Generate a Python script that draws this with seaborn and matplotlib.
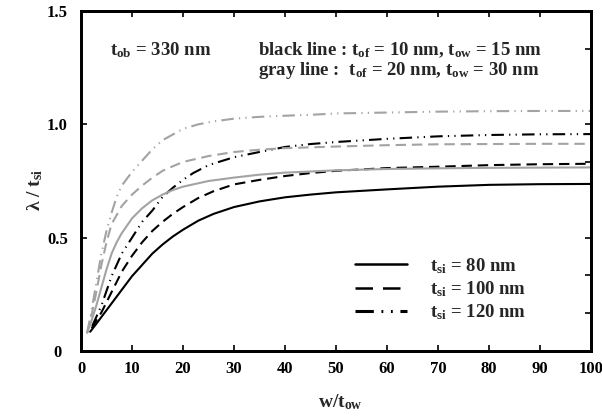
import numpy as np
import pandas as pd
import matplotlib
matplotlib.use("Agg")
import matplotlib.pyplot as plt
from matplotlib.lines import Line2D
import seaborn as sns

# ---- data ----
x_k80 = [1.8, 3, 4, 6, 8, 10, 12, 14, 16, 18, 20, 23, 26, 30, 35, 40, 45, 50, 60, 70, 80, 90, 100]
y_k80 = [0.085, 0.12, 0.15, 0.21, 0.27, 0.33, 0.38, 0.43, 0.47, 0.505, 0.535, 0.575, 0.605, 0.635,
         0.66, 0.678, 0.69, 0.70, 0.713, 0.725, 0.733, 0.736, 0.737]

x_k100 = [2.1, 3, 4, 6, 8, 10, 12, 14, 16, 18, 20, 23, 26, 30, 35, 40, 45, 50, 60, 70, 80, 90, 100]
y_k100 = [0.10, 0.135, 0.17, 0.26, 0.35, 0.42, 0.48, 0.53, 0.57, 0.605, 0.635, 0.675, 0.705, 0.735,
          0.755, 0.772, 0.785, 0.795, 0.807, 0.813, 0.82, 0.824, 0.826]

x_k120 = [2.2, 3, 4, 6, 8, 10, 12, 14, 16, 18, 20, 22, 25, 30, 35, 40, 45, 50, 60, 70, 80, 90, 100]
y_k120 = [0.11, 0.15, 0.20, 0.33, 0.43, 0.50, 0.57, 0.62, 0.68, 0.72, 0.755, 0.785, 0.82, 0.855,
          0.878, 0.90, 0.913, 0.922, 0.936, 0.947, 0.953, 0.956, 0.957]

x_g80 = [1.2, 2, 3, 4, 5, 6, 7, 8, 10, 12, 14, 16, 18, 20, 25, 30, 35, 40, 50, 60, 70, 80, 90, 100]
y_g80 = [0.08, 0.13, 0.20, 0.28, 0.36, 0.43, 0.48, 0.52, 0.585, 0.63, 0.665, 0.69, 0.71, 0.725,
         0.75, 0.765, 0.778, 0.787, 0.797, 0.803, 0.806, 0.808, 0.809, 0.81]

x_g100 = [1.2, 2, 3, 4, 5, 6, 8, 10, 12, 14, 16, 18, 20, 25, 30, 35, 40, 50, 60, 70, 80, 90, 100]
y_g100 = [0.08, 0.15, 0.26, 0.38, 0.48, 0.56, 0.64, 0.69, 0.73, 0.765, 0.795, 0.815, 0.834, 0.86,
          0.878, 0.888, 0.895, 0.902, 0.908, 0.912, 0.913, 0.914, 0.914]

x_g120 = [1.2, 2, 3, 4, 5, 6, 7, 8, 10, 12, 14, 16, 18, 20, 23, 26, 30, 35, 40, 45, 50, 60, 70, 80, 90, 100]
y_g120 = [0.08, 0.17, 0.30, 0.43, 0.53, 0.61, 0.68, 0.73, 0.79, 0.84, 0.89, 0.93, 0.955, 0.98, 1.0,
          1.013, 1.025, 1.033, 1.038, 1.042, 1.048, 1.052, 1.056, 1.058, 1.059, 1.059]

tsi_labels = ["80", "100", "120"]
x_ticks = [0, 10, 20, 30, 40, 50, 60, 70, 80, 90, 100]
y_ticks = [0, 0.5, 1.0, 1.5]
y_tick_labels = ["0", "0.5", "1.0", "1.5"]
right_ticks = [1/6, 2/6, 0.5, 5/6, 1.0, 8/6]

series = [
    ("black", "80", x_k80, y_k80),
    ("black", "100", x_k100, y_k100),
    ("black", "120", x_k120, y_k120),
    ("gray", "80", x_g80, y_g80),
    ("gray", "100", x_g100, y_g100),
    ("gray", "120", x_g120, y_g120),
]

# ---- style ----
sns.set_theme(style="white")
plt.rcParams["font.family"] = ["Liberation Serif", "DejaVu Serif"]
plt.rcParams["font.weight"] = "bold"
plt.rcParams["mathtext.fontset"] = "custom"
plt.rcParams["mathtext.rm"] = "Liberation Serif:bold"
plt.rcParams["mathtext.bf"] = "Liberation Serif:bold"
plt.rcParams["mathtext.it"] = "Liberation Serif:bold"
plt.rcParams["mathtext.default"] = "regular"

GRAY = "#a3a3a3"
colors = {"black": "black", "gray": GRAY}
styles = {"80": "-", "100": (0, (5, 2.8)), "120": (0, (6, 2.5, 0.6, 2.5, 0.6, 2.5))}

fig = plt.figure(figsize=(6.02, 4.17), dpi=100)
ax = fig.add_axes([81/602, 1 - 351/417, 510/602, 340/417])

for col, tsi, xs, ys in series:
    d = pd.DataFrame({"x": xs, "y": ys})
    sns.lineplot(data=d, x="x", y="y", estimator=None, sort=False, color=colors[col],
                 linewidth=1.5, legend=False, ax=ax)
    ax.lines[-1].set_linestyle(styles[tsi])

ax.set_xlim(0, 100)
ax.set_ylim(0, 1.5)
ax.set_xticks(x_ticks)
ax.set_xticklabels([str(t) for t in x_ticks])
ax.set_yticks(y_ticks)
ax.set_yticklabels(y_tick_labels)
for lab in ax.get_yticklabels():
    lab.set_ha("center")

for sp in ax.spines.values():
    sp.set_visible(True)
    sp.set_linewidth(2.0)
    sp.set_color("black")

ax.tick_params(axis="x", direction="in", length=4, width=1.2, top=True, bottom=True,
               labelsize=12, pad=7, colors="black")
ax.tick_params(axis="y", direction="in", length=4, width=1.2, left=True, right=False,
               labelsize=12, pad=17, colors="black")

ax2 = ax.twinx()
ax2.set_ylim(0, 1.5)
ax2.set_yticks(right_ticks)
ax2.tick_params(axis="y", direction="in", length=4, width=1.2, labelright=False, right=True,
                colors="black")
for sp in ax2.spines.values():
    sp.set_linewidth(2.0)
    sp.set_color("black")

ax.set_xlabel(r"w/t$_{ow}$", fontsize=14, fontweight="bold")
ax.xaxis.label.set_va("center")
ax.xaxis.set_label_coords(0.508, -0.15)
ax.set_ylabel(r"λ / t$_{si}$", fontsize=14, fontweight="bold")
ax.yaxis.label.set_va("center")
ax.yaxis.set_label_coords(-0.09, 0.474)

FS = 13.5
ax.text(0.057, 0.885, r"t$_{ob}$ = 330 nm", transform=ax.transAxes, fontsize=FS,
        fontweight="bold", va="center", ha="left")
ax.text(0.347, 0.885, r"black line : t$_{of}$ = 10 nm, t$_{ow}$ = 15 nm", transform=ax.transAxes,
        fontsize=FS, fontweight="bold", va="center", ha="left")
ax.text(0.347, 0.824, r"gray line :  t$_{of}$ = 20 nm, t$_{ow}$ = 30 nm", transform=ax.transAxes,
        fontsize=FS, fontweight="bold", va="center", ha="left")

handles = [
    Line2D([], [], color="black", lw=1.8, linestyle="-"),
    Line2D([], [], color="black", lw=1.8, linestyle=(0, (7, 4))),
    Line2D([], [], color="black", lw=2.2, linestyle=(0, (6, 2.5, 0.6, 2.5, 0.6, 2.5))),
]
labels = [r"t$_{si}$ = %s nm" % t for t in tsi_labels]
ax.legend(handles, labels, loc="upper left", bbox_to_anchor=(0.537, 0.28), frameon=False,
          borderpad=0, borderaxespad=0, handlelength=2.8, handletextpad=1.2,
          labelspacing=0.2, prop={"family": "Liberation Serif", "weight": "bold", "size": FS})

fig.savefig("out.png", dpi=100)
